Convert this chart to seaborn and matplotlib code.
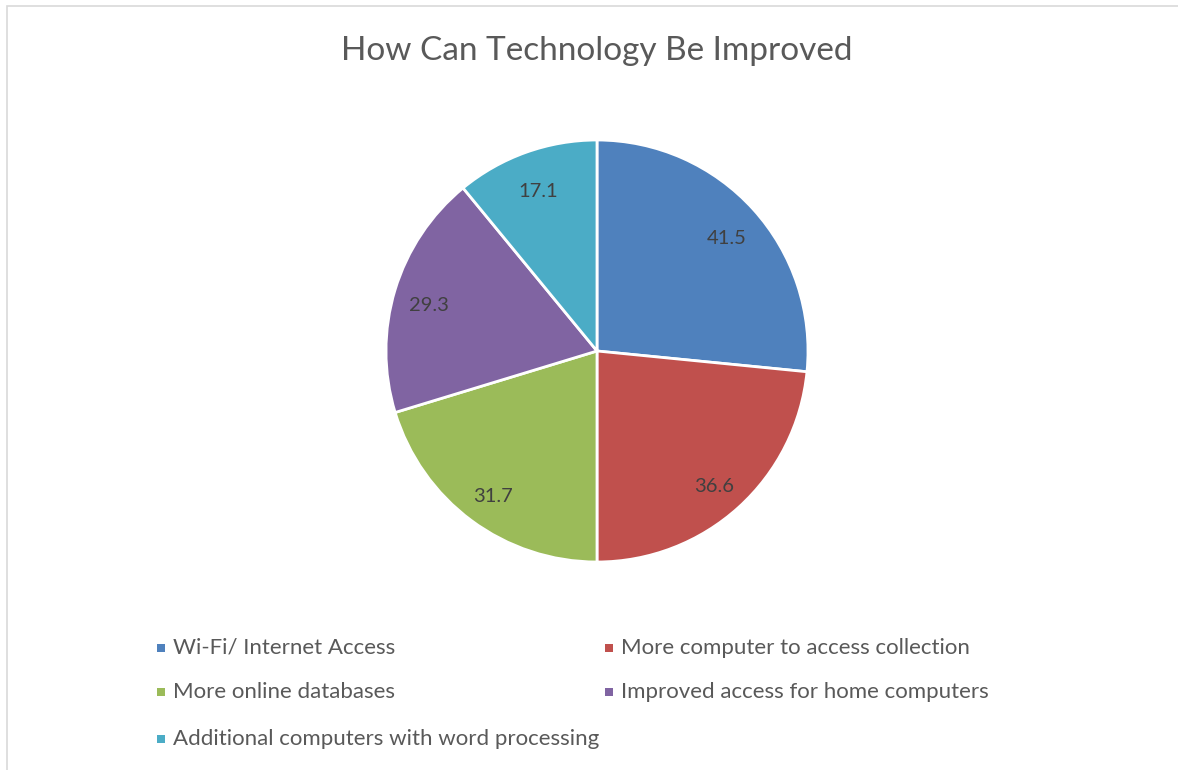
import matplotlib
matplotlib.use("Agg")
import matplotlib.pyplot as plt
import seaborn as sns
from matplotlib.patches import Rectangle

categories = [
    "Wi-Fi/ Internet Access",
    "More computer to access collection",
    "More online databases",
    "Improved access for home computers",
    "Additional computers with word processing",
]
values = [41.5, 36.6, 31.7, 29.3, 17.1]
colors = ["#4F81BD", "#C0504D", "#9BBB59", "#8064A2", "#4BACC6"]

sns.set_theme(style="white")
plt.rcParams["font.family"] = ["Lato", "DejaVu Sans"]

W, H = 1178, 770
fig = plt.figure(figsize=(W / 100, H / 100), dpi=100)

# chart border
fig.patches.append(Rectangle((7 / W, -0.01), 1.2, 1 - 6 / H + 0.01, transform=fig.transFigure,
                             fill=False, edgecolor="#D9D9D9", linewidth=1.2))

cx, cy, r = 597, 351, 211
ax = fig.add_axes([(cx - r) / W, (H - cy - r) / H, 2 * r / W, 2 * r / H])
pal = sns.color_palette(colors)
total = sum(values)
wedges, texts, autotexts = ax.pie(
    values, colors=pal, startangle=90, counterclock=False,
    autopct=lambda p: f"{p * total / 100:.1f}", pctdistance=0.83,
    wedgeprops=dict(edgecolor="white", linewidth=2.0),
    textprops=dict(color="#404040", fontsize=14.5),
)
for t in autotexts:
    x, y = t.get_position()
    t.set_position((x, y - 0.025))
ax.set_xlim(-1, 1)
ax.set_ylim(-1, 1)
ax.set_aspect("equal")

fig.text(597 / W, 1 - 51 / H, "How Can Technology Be Improved", ha="center", va="center",
         fontsize=24, color="#595959")

# legend
rows_y = [648, 692, 739]
col_x = [161, 609]
positions = [(0, 0), (1, 0), (0, 1), (1, 1), (0, 2)]
for i, (c, rr) in zip(range(5), positions):
    x = col_x[c]
    y = rows_y[rr]
    fig.patches.append(Rectangle(((x - 4) / W, 1 - (y + 4) / H), 8 / W, 8 / H,
                                 transform=fig.transFigure, facecolor=pal[i], edgecolor="none"))
    fig.text((x + 12) / W, 1 - y / H, categories[i], ha="left", va="center",
             fontsize=16, color="#595959")

fig.savefig("out.png", dpi=100)
